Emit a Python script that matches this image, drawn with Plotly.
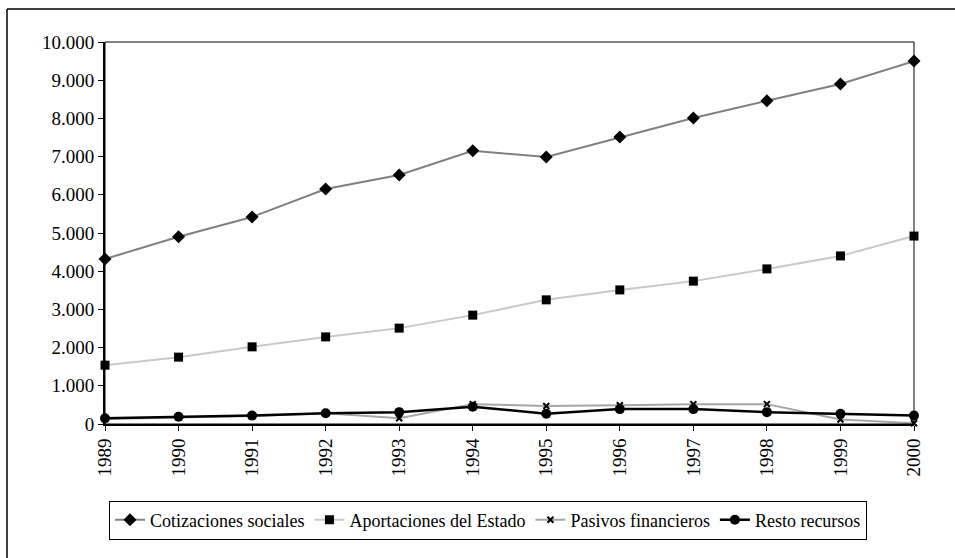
import plotly.graph_objects as go

years = [1989, 1990, 1991, 1992, 1993, 1994, 1995, 1996, 1997, 1998, 1999, 2000]
cotizaciones = [4320, 4900, 5420, 6150, 6520, 7150, 6990, 7510, 8010, 8460, 8900, 9500]
aportaciones = [1540, 1750, 2020, 2280, 2510, 2850, 3250, 3510, 3740, 4060, 4400, 4920]
pasivos = [130, 170, 210, 280, 150, 520, 470, 490, 520, 520, 120, 20]
resto = [150, 190, 220, 280, 310, 450, 270, 390, 390, 310, 270, 220]
y_ticks = list(range(0, 10001, 1000))

W, H = 955, 558
L, R, T, B = 105, 914, 42, 424
FONT = "Liberation Serif"
FS = 19

fig = go.Figure()
fig.add_trace(go.Scatter(x=years, y=cotizaciones, name="Cotizaciones sociales",
                         mode="lines+markers", line=dict(color="#808080", width=2),
                         marker=dict(symbol="diamond", size=10, color="black"), cliponaxis=False))
fig.add_trace(go.Scatter(x=years, y=aportaciones, name="Aportaciones del Estado",
                         mode="lines+markers", line=dict(color="#c8c8c8", width=2),
                         marker=dict(symbol="square", size=9, color="black"), cliponaxis=False))
fig.add_trace(go.Scatter(x=years, y=pasivos, name="Pasivos financieros",
                         mode="lines+markers", line=dict(color="#a6a6a6", width=2),
                         marker=dict(symbol="x-thin", size=6, color="black",
                                     line=dict(color="black", width=2)), cliponaxis=False))
fig.add_trace(go.Scatter(x=years, y=resto, name="Resto recursos",
                         mode="lines+markers", line=dict(color="black", width=2.5),
                         marker=dict(symbol="circle", size=10, color="black"), cliponaxis=False))

fig.update_layout(
    width=W, height=H,
    margin=dict(l=L, r=W - R, t=T, b=H - B, pad=0),
    paper_bgcolor="white", plot_bgcolor="white",
    font=dict(family=FONT, size=FS, color="black"),
    separators=",.",
    showlegend=True,
    legend=dict(orientation="h", xref="container", yref="container",
                x=488 / W, xanchor="center", y=1 - 520 / H, yanchor="middle",
                bordercolor="black", borderwidth=1, bgcolor="white",
                font=dict(family=FONT, size=18),
                itemwidth=30, tracegroupgap=0),
    shapes=[
        dict(type="rect", xref="paper", yref="paper", x0=0, x1=1, y0=0, y1=1,
             line=dict(color="black", width=1), layer="above"),
        dict(type="line", xref="paper", yref="paper",
             x0=(7 - L) / (R - L), x1=(W + 5 - L) / (R - L),
             y0=(B - 9) / (B - T), y1=(B - 9) / (B - T),
             line=dict(color="black", width=1.5)),
        dict(type="line", xref="paper", yref="paper",
             x0=(7 - L) / (R - L), x1=(7 - L) / (R - L),
             y0=(B - 9) / (B - T), y1=(B - H - 5) / (B - T),
             line=dict(color="black", width=1.5)),
    ],
)
fig.update_xaxes(range=[1989, 2000], tickmode="array", tickvals=years,
                 ticktext=[str(y) for y in years], tickangle=-90,
                 ticks="outside", ticklen=5, tickcolor="black", tickwidth=1,
                 showline=True, linecolor="black", linewidth=2, showgrid=False,
                 zeroline=False, automargin=False)
fig.update_yaxes(range=[0, 10000], tickmode="array", tickvals=y_ticks, tickformat=",d",
                 ticks="outside", ticklen=5, tickcolor="black", tickwidth=1,
                 showline=True, linecolor="black", linewidth=2, showgrid=False,
                 zeroline=False, automargin=False)

fig.write_html("out.html")
